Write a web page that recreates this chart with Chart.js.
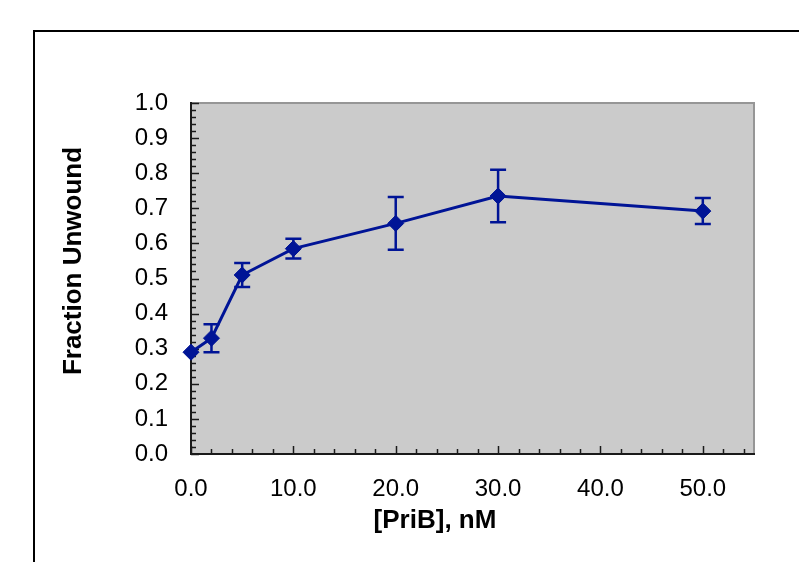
<!DOCTYPE html>
<html>
<head>
<meta charset="utf-8">
<script src="https://cdn.jsdelivr.net/npm/chart.js@4/dist/chart.umd.min.js"></script>
<style>
  html, body { margin: 0; padding: 0; background: #ffffff; }
  #wrap { width: 799px; height: 562px; position: relative; }
</style>
</head>
<body>
<div id="wrap"><canvas id="c" width="799" height="562"></canvas></div>
<script>
// ---- data ----
const concentrations = [0, 2, 5, 10, 20, 30, 50];           // [PriB], nM
const fractionUnwound = [0.29, 0.33, 0.51, 0.585, 0.657, 0.735, 0.692];
const errorValues = [0, 0.04, 0.034, 0.028, 0.075, 0.075, 0.037];
const xTitle = '[PriB], nM';
const yTitle = 'Fraction Unwound';

const NAVY = '#001496';
const FONT = '"Liberation Sans", Arial, Helvetica, sans-serif';

const points = concentrations.map((x, i) => ({ x: x, y: fractionUnwound[i] }));

const framePlugin = {
  id: 'frame',
  beforeDraw(chart) {
    const ctx = chart.ctx, a = chart.chartArea;
    ctx.save();
    ctx.fillStyle = '#ffffff';
    ctx.fillRect(0, 0, chart.width, chart.height);
    // outer border of the chart object
    ctx.strokeStyle = '#000000';
    ctx.lineWidth = 2;
    ctx.strokeRect(34, 31, 900, 700);
    // plot area fill
    ctx.fillStyle = '#cbcbcb';
    ctx.fillRect(a.left, a.top, a.right - a.left, a.bottom - a.top);
    ctx.restore();
  },
  beforeDatasetsDraw(chart) {
    const ctx = chart.ctx, a = chart.chartArea;
    const xs = chart.scales.x, ys = chart.scales.y;
    ctx.save();
    // top and right gray border
    ctx.strokeStyle = '#969696';
    ctx.lineWidth = 2;
    ctx.beginPath();
    ctx.moveTo(a.left, a.top); ctx.lineTo(a.right, a.top); ctx.lineTo(a.right, a.bottom);
    ctx.stroke();
    // left and bottom axis lines
    ctx.strokeStyle = '#1a1a1a';
    ctx.beginPath();
    ctx.moveTo(a.left, a.top - 1); ctx.lineTo(a.left, a.bottom); ctx.lineTo(a.right + 1, a.bottom);
    ctx.stroke();
    // inward tick marks
    ctx.lineWidth = 1.5;
    for (let k = 0; k <= 50; k++) {
      const v = k * 0.02;
      const py = Math.round(ys.getPixelForValue(v)) + 0.5;
      const len = (k % 5 === 0) ? 8 : 5;
      ctx.beginPath(); ctx.moveTo(a.left, py); ctx.lineTo(a.left + len, py); ctx.stroke();
    }
    for (let k = 0; k <= 27; k++) {
      const v = k * 2;
      const px = Math.round(xs.getPixelForValue(v)) + 0.5;
      const len = (k % 5 === 0) ? 8 : 5;
      ctx.beginPath(); ctx.moveTo(px, a.bottom); ctx.lineTo(px, a.bottom - len); ctx.stroke();
    }
    // error bars
    ctx.strokeStyle = NAVY;
    ctx.lineWidth = 2.5;
    const cap = 8;
    concentrations.forEach((x, i) => {
      const e = errorValues[i];
      if (!e) return;
      const px = xs.getPixelForValue(x);
      const pt = ys.getPixelForValue(fractionUnwound[i] + e);
      const pb = ys.getPixelForValue(fractionUnwound[i] - e);
      ctx.beginPath();
      ctx.moveTo(px, pt); ctx.lineTo(px, pb);
      ctx.moveTo(px - cap, pt); ctx.lineTo(px + cap, pt);
      ctx.moveTo(px - cap, pb); ctx.lineTo(px + cap, pb);
      ctx.stroke();
    });
    ctx.restore();
  },
  afterDraw(chart) {
    const ctx = chart.ctx, a = chart.chartArea;
    ctx.save();
    ctx.fillStyle = '#000000';
    ctx.font = 'bold 26px ' + FONT;
    ctx.textAlign = 'center';
    ctx.textBaseline = 'middle';
    ctx.fillText(xTitle, a.left + 244, a.bottom + 67);
    ctx.translate(a.left - 117, a.top + 158);
    ctx.rotate(-Math.PI / 2);
    ctx.fillText(yTitle, 0, 0);
    ctx.restore();
  }
};

new Chart(document.getElementById('c'), {
  type: 'line',
  data: {
    datasets: [{
      data: points,
      borderColor: NAVY,
      backgroundColor: NAVY,
      borderWidth: 3,
      pointStyle: 'rectRot',
      pointRadius: 8,
      pointBorderWidth: 1,
      pointBackgroundColor: NAVY,
      pointBorderColor: NAVY,
      tension: 0,
      clip: false
    }]
  },
  options: {
    responsive: false,
    animation: false,
    devicePixelRatio: 1,
    layout: { padding: { left: 0, top: 103, right: 45, bottom: 0 } },
    plugins: { legend: { display: false }, tooltip: { enabled: false }, title: { display: false } },
    scales: {
      x: {
        type: 'linear',
        min: 0, max: 55,
        grid: { display: false },
        border: { display: false },
        ticks: {
          stepSize: 10,
          includeBounds: false,
          padding: 13,
          color: '#000000',
          font: { family: FONT, size: 24 },
          maxRotation: 0,
          callback: (v) => Number(v).toFixed(1)
        },
        afterFit(scale) { scale.height = 108; }
      },
      y: {
        type: 'linear',
        min: 0, max: 1,
        grid: { display: false },
        border: { display: false },
        ticks: {
          stepSize: 0.1,
          padding: 15,
          color: '#000000',
          font: { family: FONT, size: 24 },
          callback: (v) => Number(v).toFixed(1)
        },
        afterFit(scale) { scale.width = 191; }
      }
    }
  },
  plugins: [framePlugin]
});
</script>
</body>
</html>
